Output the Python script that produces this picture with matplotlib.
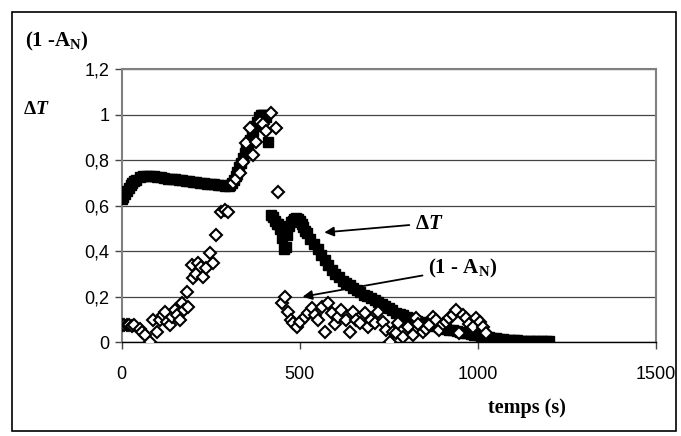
import matplotlib.pyplot as plt
from matplotlib.patches import Rectangle
from matplotlib.ticker import FuncFormatter

plt.rcParams['mathtext.fontset'] = 'custom'
plt.rcParams['mathtext.rm'] = 'Liberation Serif:bold'
plt.rcParams['mathtext.bf'] = 'Liberation Serif:bold'
plt.rcParams['mathtext.it'] = 'Liberation Serif:bold:italic'

# Delta T (filled squares)
dt_time = [0, 5, 10, 15, 20, 25, 30, 35, 40, 50, 60, 70, 80, 90, 100, 110, 120,
           130, 140, 150, 160, 170, 180, 190, 200, 210, 220, 230, 240, 250, 260,
           270, 280, 290, 300, 305, 310, 315, 320, 325, 330, 335, 340, 345, 350,
           355, 360, 365, 370, 375, 380, 385, 390, 395, 400, 405, 410,
           420, 425, 430, 435, 440, 445, 450, 455, 460, 465, 470, 475, 480, 485,
           490, 495, 500, 505, 510, 515, 520, 530, 540, 550, 560, 570, 580, 590,
           600, 610, 620, 630, 640, 650, 660, 670, 680, 690, 700, 710, 720, 730,
           740, 750, 760, 770, 780, 790, 800, 810, 820, 830, 840, 850, 860, 870,
           880, 890, 900, 910, 920, 930, 940, 950, 960, 970, 980, 990, 1000,
           1010, 1020, 1030, 1040, 1050, 1060, 1070, 1080, 1090, 1100, 1110,
           1120, 1130, 1140, 1150, 1160, 1170, 1180, 1190, 1200]
dt_value = [0.63, 0.64, 0.65, 0.665, 0.68, 0.69, 0.70, 0.71, 0.715, 0.725, 0.73,
            0.732, 0.732, 0.73, 0.728, 0.726, 0.723, 0.72, 0.718, 0.716, 0.714,
            0.712, 0.71, 0.708, 0.706, 0.704, 0.702, 0.70, 0.698, 0.696, 0.694,
            0.692, 0.69, 0.688, 0.686, 0.69, 0.70, 0.715, 0.73, 0.75, 0.77, 0.79,
            0.81, 0.83, 0.85, 0.87, 0.89, 0.91, 0.93, 0.95, 0.97, 0.99, 1.0, 1.0,
            1.0, 0.99, 0.88,
            0.56, 0.55, 0.535, 0.52, 0.52, 0.50, 0.46, 0.41, 0.42, 0.47, 0.51,
            0.53, 0.535, 0.54, 0.545, 0.54, 0.535, 0.52, 0.505, 0.49, 0.48, 0.455,
            0.43, 0.41, 0.385, 0.36, 0.34, 0.32, 0.30, 0.285, 0.27, 0.26, 0.25,
            0.24, 0.23, 0.22, 0.21, 0.205, 0.195, 0.185, 0.175, 0.168, 0.16, 0.15,
            0.14, 0.13, 0.125, 0.118, 0.11, 0.105, 0.10, 0.095, 0.09, 0.085, 0.08,
            0.075, 0.07, 0.066, 0.062, 0.058, 0.055, 0.052, 0.049, 0.046, 0.043,
            0.04, 0.037, 0.034, 0.031, 0.028, 0.025, 0.022, 0.02, 0.018, 0.016,
            0.014, 0.012, 0.01, 0.009, 0.008, 0.007, 0.006, 0.006, 0.005, 0.005,
            0.005, 0.005, 0.005, 0.005]

# 1 - A_N (open diamonds)
an_time = [0, 7, 14, 21, 28, 35, 50, 56, 65, 79, 89, 98, 107, 115, 121, 128, 135,
           142, 149, 156, 163, 168, 175, 182, 187, 196, 201, 208, 215, 222, 229,
           238, 248, 257, 266, 280, 290, 299, 313, 322, 332, 341, 350, 360, 369,
           378, 388, 397, 406, 420, 434, 439,
           449, 458, 467, 474, 481, 491, 500, 514, 523, 533, 542, 551, 561, 570,
           579, 589, 598, 607, 617, 631, 640, 649, 659, 668, 682, 691, 700, 710,
           719, 733, 743, 752, 761, 771, 775, 790, 804, 818, 827, 832, 846, 855,
           864, 873, 883, 892, 902, 911, 920, 930, 939, 948, 957, 967, 976, 986,
           995, 1005, 1014, 1023]
an_value = [0.075, 0.075, 0.075, 0.075, 0.07, 0.075, 0.06, 0.047, 0.03, 0.003,
            0.098, 0.047, 0.098, 0.12, 0.135, 0.09, 0.076, 0.11, 0.142, 0.12,
            0.098, 0.171, 0.14, 0.222, 0.157, 0.34, 0.281, 0.30, 0.347, 0.33,
            0.288, 0.325, 0.391, 0.347, 0.472, 0.574, 0.58, 0.574, 0.699, 0.72,
            0.743, 0.794, 0.875, 0.94, 0.823, 0.88, 0.97, 0.96, 0.93, 1.007, 0.94,
            0.66,
            0.171, 0.2, 0.134, 0.10, 0.083, 0.069, 0.09, 0.113, 0.13, 0.149, 0.12,
            0.098, 0.157, 0.047, 0.171, 0.127, 0.08, 0.113, 0.14, 0.098, 0.047,
            0.135, 0.10, 0.083, 0.127, 0.069, 0.10, 0.083, 0.135, 0.091, 0.054,
            0.003, 0.047, 0.04, 0.083, 0.025, 0.069, 0.032, 0.105, 0.08, 0.047,
            0.06, 0.076, 0.11, 0.098, 0.054, 0.08, 0.09, 0.105, 0.12, 0.142, 0.04,
            0.12, 0.105, 0.08, 0.069, 0.105, 0.09, 0.069, 0.04]

x_ticks = [0, 500, 1000, 1500]
y_ticks = [0, 0.2, 0.4, 0.6, 0.8, 1.0, 1.2]

fig = plt.figure(figsize=(6.81, 4.36), dpi=100)
ax = fig.add_axes([0.1787, 0.2149, 0.7846, 0.6261])

ax.plot(dt_time, dt_value, linestyle='none', marker='s', markersize=6.8,
        color='black', zorder=3)
ax.plot(an_time, an_value, linestyle='none', marker='D', markersize=6.3,
        markerfacecolor='white', markeredgecolor='black', markeredgewidth=1.5,
        zorder=4)

ax.set_xlim(0, 1500)
ax.set_ylim(0, 1.2)
ax.set_xticks(x_ticks)
ax.set_yticks(y_ticks)
ax.yaxis.set_major_formatter(FuncFormatter(
    lambda v, p: '0' if v == 0 else ('1' if abs(v - 1) < 1e-9 else f'{v:.1f}'.replace('.', ','))))
ax.tick_params(direction='out', length=5, width=1, labelsize=13,
               color='#444444', pad=4)
for lab in ax.get_xticklabels() + ax.get_yticklabels():
    lab.set_fontfamily('Liberation Sans')
ax.tick_params(axis='x', pad=12)

ax.grid(axis='y', color='#444444', linewidth=0.9)
ax.set_axisbelow(True)
for side in ['left', 'top', 'right']:
    ax.spines[side].set_color('#808080')
    ax.spines[side].set_linewidth(1.5)
ax.spines['bottom'].set_color('black')
ax.spines['bottom'].set_linewidth(1.0)

# annotations
ax.annotate(r'$\Delta T$', xy=(561, 0.482), xytext=(823, 0.523),
            fontsize=15, va='center', ha='left',
            arrowprops=dict(arrowstyle='-|>', color='black', lw=1.3,
                            mutation_scale=14))
ax.annotate('(1 - A$_{\\mathrm{N}}$)', xy=(500, 0.198), xytext=(860, 0.325),
            fontsize=15, fontfamily='Liberation Serif', fontweight='bold',
            va='center', ha='left',
            arrowprops=dict(arrowstyle='-|>', color='black', lw=1.3,
                            mutation_scale=14))

fig.text(0.037, 0.905, '(1 -A$_{\\mathrm{N}}$)', fontsize=15,
         fontfamily='Liberation Serif', fontweight='bold', va='center', ha='left')
fig.text(0.034, 0.752, r'$\Delta T$', fontsize=14, va='center', ha='left')
fig.text(0.774, 0.064, 'temps (s)', fontsize=14.5,
         fontfamily='Liberation Serif', fontweight='bold', va='center', ha='center')

# outer frame
fig.add_artist(Rectangle((12 / 681, 5 / 436), 664 / 681, 419 / 436,
                         transform=fig.transFigure, fill=False,
                         edgecolor='black', linewidth=1.2))

fig.savefig('out.png', dpi=100)
